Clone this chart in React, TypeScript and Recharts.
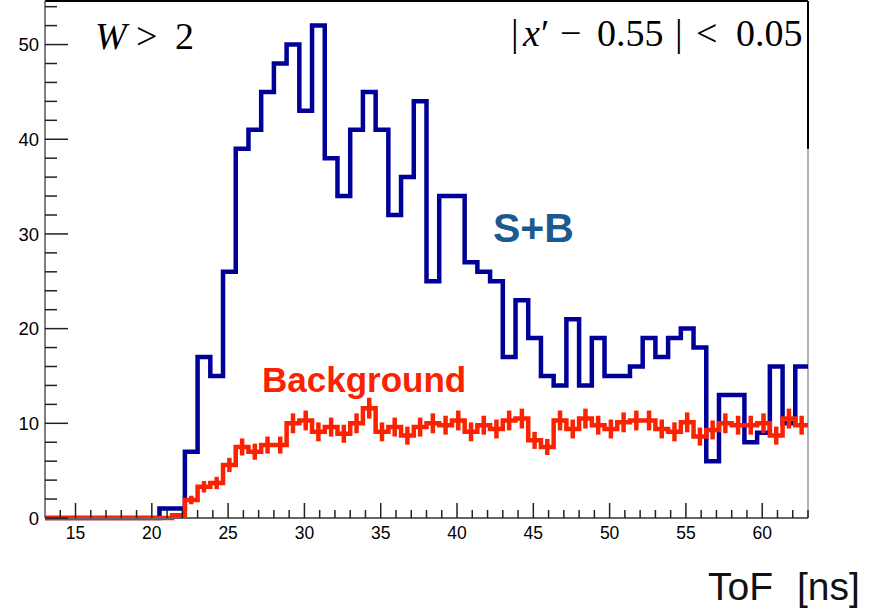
import React from "react";
import {
  ComposedChart,
  Line,
  Scatter,
  ErrorBar,
  XAxis,
  YAxis,
  ReferenceLine,
} from "recharts";

// 60 bins of ToF from 13 to 63 ns
const X_MIN = 13;
const X_MAX = 63;
const BIN_W = (X_MAX - X_MIN) / 60;
const Y_MAX = 54.6;

const sbCounts = [
  0, 0, 0, 0, 0, 0, 0, 0, 0, 1,
  1, 7, 17, 15, 26, 39, 41, 45, 48, 50,
  43, 52, 38, 34, 41, 45, 41, 32, 36, 44,
  25, 34, 34, 27, 26, 25, 17, 23, 19, 15,
  14, 21, 14, 19, 15, 15, 16, 19, 17, 19,
  20, 18, 6, 13, 13, 8, 9, 16, 10, 16,
];

const bgValues = [
  0, 0, 0, 0, 0, 0, 0, 0, 0, 0,
  0.3, 1.9, 3.3, 3.7, 5.6, 7.5, 7.0, 7.7, 7.7, 10.0,
  10.3, 9.1, 9.6, 8.9, 10.0, 11.6, 9.1, 9.6, 8.7, 9.6,
  10.0, 9.8, 10.3, 9.1, 9.8, 9.4, 10.3, 10.5, 8.2, 7.5,
  10.3, 9.4, 10.5, 9.8, 9.4, 10.1, 10.3, 10.3, 9.4, 9.1,
  10.1, 8.6, 9.3, 10.0, 9.8, 9.8, 10.0, 8.7, 10.5, 9.8,
];

const bgErrors = [
  0, 0, 0, 0, 0, 0, 0, 0, 0, 0,
  0.2, 0.45, 0.6, 0.65, 0.75, 0.9, 0.85, 0.9, 0.9, 1.05,
  1.05, 1.0, 1.0, 0.95, 1.05, 1.1, 1.0, 1.0, 0.95, 1.0,
  1.05, 1.0, 1.05, 1.0, 1.0, 1.0, 1.05, 1.05, 0.9, 0.85,
  1.05, 1.0, 1.05, 1.0, 1.0, 1.05, 1.05, 1.05, 1.0, 1.0,
  1.05, 0.95, 1.0, 1.05, 1.0, 1.0, 1.05, 0.95, 1.05, 1.0,
];

const xMajorTicks = [15, 20, 25, 30, 35, 40, 45, 50, 55, 60];
const yMajorTicks = [0, 10, 20, 30, 40, 50];

const BLUE = "#000099";
const RED = "#fa2200";

const edge = (k: number) => X_MIN + k * BIN_W;

const sbStep = [
  ...sbCounts.map((v, k) => ({ x: edge(k), y: v })),
  { x: X_MAX, y: sbCounts[sbCounts.length - 1] },
];
const bgStep = [
  ...bgValues.map((v, k) => ({ x: edge(k), y: v })),
  { x: X_MAX, y: bgValues[bgValues.length - 1] },
];
const bgPoints = bgValues
  .map((v, k) => ({ x: edge(k) + BIN_W / 2, y: v, err: bgErrors[k] }))
  .filter((p) => p.y > 0);

const xTickValues: number[] = [];
for (let t = 14; t <= 63; t++) xTickValues.push(t);
const yTickValues: number[] = [];
for (let t = 0; t <= 54; t += 2) yTickValues.push(t);

const XTick = ({ x, y, payload }: any) => {
  const v = payload.value;
  const major = xMajorTicks.includes(v);
  return (
    <g>
      <line x1={x} x2={x} y1={y} y2={y - (major ? 15 : 8)} stroke="#222" strokeWidth={1.5} />
      {major && (
        <text x={x} y={y + 21} textAnchor="middle" fontSize={17.5} fontFamily="Liberation Sans, Arial" fill="#000">
          {v}
        </text>
      )}
    </g>
  );
};

const YTick = ({ x, y, payload }: any) => {
  const v = payload.value;
  const major = yMajorTicks.includes(v);
  return (
    <g>
      <line x1={x} x2={x + (major ? 23 : 12)} y1={y} y2={y} stroke="#222" strokeWidth={1.5} />
      {major && (
        <text x={x - 6} y={y} dy="0.36em" textAnchor="end" fontSize={18.5} fontFamily="Liberation Sans, Arial" fill="#000">
          {v}
        </text>
      )}
    </g>
  );
};

const serif = "Liberation Serif, Times New Roman, serif";
const sans = "Liberation Sans, Arial, sans-serif";

export default function App() {
  return (
    <div style={{ position: "absolute", left: 0, top: 0, width: 879, height: 610, background: "#fff" }}>
      <ComposedChart width={879} height={610} margin={{ top: 1, right: 71, left: 0, bottom: 0 }}>
        <XAxis
          type="number"
          dataKey="x"
          domain={[X_MIN, X_MAX]}
          ticks={xTickValues}
          interval={0}
          tick={<XTick />}
          tickSize={0}
          tickMargin={0}
          tickLine={false}
          height={92}
          axisLine={{ stroke: "#666", strokeWidth: 2 }}
        />
        <YAxis
          type="number"
          domain={[0, Y_MAX]}
          ticks={yTickValues}
          interval={0}
          tick={<YTick />}
          tickSize={0}
          tickMargin={0}
          tickLine={false}
          width={45}
          axisLine={{ stroke: "#555", strokeWidth: 1.5 }}
        />
        <ReferenceLine y={Y_MAX} stroke="#000" strokeWidth={2} />
        <ReferenceLine x={X_MAX} stroke="#999" strokeWidth={1.5} />
        <ReferenceLine
          segment={[{ x: X_MAX, y: Y_MAX }, { x: X_MAX, y: 39 }]}
          stroke="#000"
          strokeWidth={2}
        />
        <Line
          data={sbStep}
          dataKey="y"
          type="stepAfter"
          stroke={BLUE}
          strokeWidth={4.5}
          dot={false}
          activeDot={false}
          strokeLinejoin="miter"
          isAnimationActive={false}
        />
        <Line
          data={bgStep}
          dataKey="y"
          type="stepAfter"
          stroke={RED}
          strokeWidth={4.5}
          dot={false}
          activeDot={false}
          strokeLinejoin="miter"
          isAnimationActive={false}
        />
        <Scatter data={bgPoints} dataKey="y" fill={RED} shape={() => <g />} isAnimationActive={false}>
          <ErrorBar dataKey="err" direction="y" width={0} stroke={RED} strokeWidth={4.5} isAnimationActive={false} />
        </Scatter>
      </ComposedChart>
      <svg width={879} height={610} style={{ position: "absolute", left: 0, top: 0, pointerEvents: "none" }}>
        <text y={49} fontFamily={serif} fontSize={38} fill="#000">
          <tspan x={95} fontStyle="italic">W</tspan>
          <tspan x={136}>&gt;</tspan>
          <tspan x={175}>2</tspan>
        </text>
        <text y={46} fontFamily={serif} fontSize={38} fill="#000">
          <tspan x={511}>|</tspan>
          <tspan x={523} fontStyle="italic">x</tspan>
          <tspan x={541}>′</tspan>
          <tspan x={560}>−</tspan>
          <tspan x={597}>0.55</tspan>
          <tspan x={675}>|</tspan>
          <tspan x={696}>&lt;</tspan>
          <tspan x={736}>0.05</tspan>
        </text>
        <text x={493} y={242} fontFamily={sans} fontWeight="bold" fontSize={41} fill="#1b5a8f">
          S+B
        </text>
        <text x={262} y={392} fontFamily={sans} fontWeight="bold" fontSize={35} fill={RED}>
          Background
        </text>
        <text y={600} fontFamily={sans} fontSize={39} fill="#111">
          <tspan x={708}>ToF</tspan>
          <tspan x={797}>[ns]</tspan>
        </text>
      </svg>
    </div>
  );
}
